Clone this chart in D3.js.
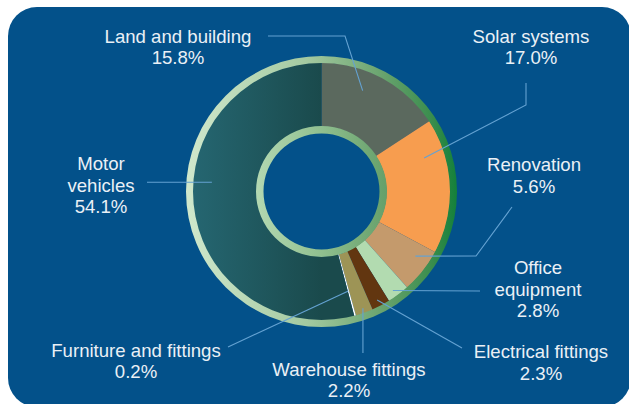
<!DOCTYPE html>
<html>
<head>
<meta charset="utf-8">
<script src="https://cdn.jsdelivr.net/npm/d3@7"></script>
<style>
  html, body { margin: 0; padding: 0; background: #ffffff; }
  svg { display: block; }
  .label { font-family: "Liberation Sans", Arial, Helvetica, sans-serif; font-size: 18.6px; fill: #eaf0f6; }
  .leader { fill: none; stroke: #64a2d2; stroke-width: 1.1; }
</style>
</head>
<body>
<svg id="chart" width="629" height="404"></svg>
<script>
// ===== DADOS =====

const categories = [
  "Land and building",
  "Solar systems",
  "Renovation",
  "Office equipment",
  "Electrical fittings",
  "Warehouse fittings",
  "Furniture and fittings",
  "Motor vehicles"
];
const shares = [15.8, 17.0, 5.6, 2.8, 2.3, 2.2, 0.2, 54.1];
const sliceColors = [
  "#5b695e", "#f79d4f", "#c49a6c", "#b2dbb0",
  "#623610", "#9d9456", "#ffffff", "url(#motorGrad)"
];

// texto dos rótulos (linhas) e posição de cada rótulo
const labelLines = [
  ["Land and building", "15.8%"],
  ["Solar systems", "17.0%"],
  ["Renovation", "5.6%"],
  ["Office", "equipment", "2.8%"],
  ["Electrical fittings", "2.3%"],
  ["Warehouse fittings", "2.2%"],
  ["Furniture and fittings", "0.2%"],
  ["Motor", "vehicles", "54.1%"]
];
const labelLayout = [
  { x: 178, y: 42.7, path: [[268, 36], [345, 36]], f: 0.39, r: 109 },
  { x: 531, y: 42.5, path: [[526, 83], [526, 105]], f: 0.245, r: 108 },
  { x: 534, y: 171, path: [[512, 207], [476, 256]], f: 0.32, r: 114 },
  { x: 538, y: 274, path: [[480, 291]], f: 0.59, r: 122 },
  { x: 541, y: 358, path: [[462, 348]], f: 0.55, r: 122 },
  { x: 349, y: 375.7, path: [[null, 353]], f: 0.49, r: 124 },
  { x: 136, y: 356.7, path: [[228, 347]], f: 0.5, r: 103 },
  { x: 101, y: 170, path: [[147, 182.3]], f: 0.5625, r: 110 }
];
const lineHeight = 21.7;

// ===== GEOMETRIA =====

const cx = 321.5, cy = 191.5;
const holeR = 58, innerR = 65, sliceR = 129, outerR = 135.5;

const svg = d3.select("#chart");

// fundo azul arredondado
svg.append("rect")
  .attr("x", 8).attr("y", 7)
  .attr("width", 623).attr("height", 400)
  .attr("rx", 29).attr("ry", 29)
  .attr("fill", "#03518a");

const defs = svg.append("defs");

// gradientes horizontais, em coordenadas relativas ao centro do donut
function hGradient(id, x1, x2, stops) {
  const grad = defs.append("linearGradient")
    .attr("id", id)
    .attr("gradientUnits", "userSpaceOnUse")
    .attr("x1", x1).attr("x2", x2)
    .attr("y1", 0).attr("y2", 0);
  stops.forEach(s => grad.append("stop").attr("offset", s[0]).attr("stop-color", s[1]));
}

hGradient("motorGrad", -sliceR, 0, [[0, "#256671"], [1, "#1a4a4c"]]);
hGradient("outerGrad", -outerR, outerR,
  [[0, "#d0e8cc"], [0.45, "#a3c9a0"], [0.72, "#6aa46f"], [0.9, "#3c8e4f"], [1, "#14803a"]]);
hGradient("innerGrad", -innerR, innerR,
  [[0, "#b3d8b1"], [0.5, "#90bf8f"], [1, "#65a06a"]]);

const g = svg.append("g").attr("transform", `translate(${cx},${cy})`);

const pie = d3.pie().sort(null).value(d => d);
const arcs = pie(shares);

const arc = d3.arc().innerRadius(innerR).outerRadius(sliceR);

g.selectAll("path.slice")
  .data(arcs)
  .join("path")
  .attr("class", "slice")
  .attr("d", arc)
  .attr("fill", (d, i) => sliceColors[i]);

// anel externo
g.append("path")
  .attr("d", d3.arc().innerRadius(sliceR - 0.5).outerRadius(outerR)
    .startAngle(0).endAngle(2 * Math.PI)())
  .attr("fill", "url(#outerGrad)");

// anel interno
g.append("path")
  .attr("d", d3.arc().innerRadius(holeR).outerRadius(innerR + 0.5)
    .startAngle(0).endAngle(2 * Math.PI)())
  .attr("fill", "url(#innerGrad)");

// ===== RÓTULOS E LINHAS =====

const line = d3.line();

labelLayout.forEach((lay, i) => {
  const a = arcs[i];
  const ang = a.startAngle + lay.f * (a.endAngle - a.startAngle);
  const p = d3.pointRadial(ang, lay.r);
  const end = [cx + p[0], cy + p[1]];
  const pts = lay.path.map(q => [q[0] === null ? end[0] : q[0], q[1]]);
  pts.push(end);

  svg.append("path")
    .attr("class", "leader")
    .attr("d", line(pts));

  const t = svg.append("text")
    .attr("class", "label")
    .attr("text-anchor", "middle");
  labelLines[i].forEach((s, k) => {
    t.append("tspan")
      .attr("x", lay.x)
      .attr("y", lay.y + k * lineHeight)
      .text(s);
  });
});
</script>
</body>
</html>
